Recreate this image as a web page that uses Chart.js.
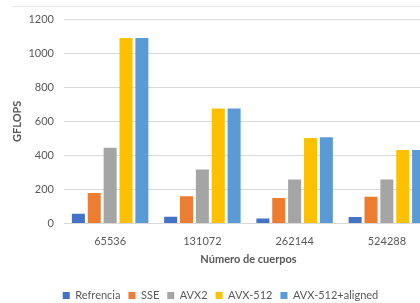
<!DOCTYPE html>
<html>
<head>
<meta charset="utf-8">
<script src="https://cdn.jsdelivr.net/npm/chart.js@4/dist/chart.umd.min.js"></script>
<style>
    body { margin: 0; overflow: hidden; background: #fff; }
    #frame { position: absolute; left: 12px; top: 6px; width: 440px; border-top: 1px solid #e8e8e8; }
    #wrapper { position: absolute; left: 0; top: 0; width: 443px; height: 311px; }
</style>
</head>
<body>
<div id="frame"></div>
<div id="wrapper"><canvas id="canvas"></canvas></div>
<script>
var categories = ["65536", "131072", "262144", "524288"];
var refrencia = [58, 40, 30, 38];
var sse = [180, 160, 150, 158];
var avx2 = [445, 318, 258, 258];
var avx512 = [1088, 675, 502, 432];
var avx512aligned = [1088, 675, 507, 432];
var yTicks = [0, 200, 400, 600, 800, 1000, 1200];

var textColor = "#595959";
var fontFamily = "Lato, 'Open Sans', sans-serif";

function makeSet(label, data, color) {
    return {
        label: label,
        data: data,
        backgroundColor: color,
        borderWidth: 0,
        categoryPercentage: 0.86,
        barPercentage: 0.82
    };
}

var chartData = {
    labels: categories,
    datasets: [
        makeSet("Refrencia", refrencia, "#4472C4"),
        makeSet("SSE", sse, "#ED7D31"),
        makeSet("AVX2", avx2, "#A5A5A5"),
        makeSet("AVX-512", avx512, "#FFC000"),
        makeSet("AVX-512+aligned", avx512aligned, "#5B9BD5")
    ]
};

window.onload = function () {
    var ctx = document.getElementById("canvas").getContext("2d");
    window.myBarChart = new Chart(ctx, {
        type: 'bar',
        data: chartData,
        options: {
            responsive: true,
            maintainAspectRatio: false,
            animation: false,
            layout: { padding: { left: 8, right: 10, top: 19, bottom: 0 } },
            plugins: {
                tooltip: { enabled: false },
                legend: {
                    position: 'bottom',
                    labels: {
                        boxWidth: 7,
                        boxHeight: 7,
                        padding: 8,
                        color: textColor,
                        font: { family: fontFamily, size: 11 }
                    }
                }
            },
            scales: {
                x: {
                    grid: { display: false },
                    border: { color: "#d9d9d9" },
                    ticks: { color: textColor, padding: 3, font: { family: fontFamily, size: 11 } },
                    title: {
                        display: true,
                        text: "Número de cuerpos",
                        color: textColor,
                        padding: { top: 2, bottom: 16 },
                        font: { family: fontFamily, size: 11, weight: 'bold' }
                    }
                },
                y: {
                    min: 0,
                    max: 1200,
                    afterBuildTicks: function (scale) {
                        scale.ticks = yTicks.map(function (v) { return { value: v }; });
                    },
                    afterFit: function (scale) { scale.width = 56; },
                    grid: { color: "#d9d9d9", drawTicks: false },
                    border: { display: false },
                    ticks: {
                        color: textColor,
                        padding: 10,
                        font: { family: fontFamily, size: 11 },
                        callback: function (v) { return String(v); }
                    },
                    title: {
                        display: true,
                        text: "GFLOPS",
                        color: textColor,
                        padding: { top: 3, bottom: 0 },
                        font: { family: fontFamily, size: 11, weight: 'bold' }
                    }
                }
            }
        }
    });
};
</script>
</body>
</html>
